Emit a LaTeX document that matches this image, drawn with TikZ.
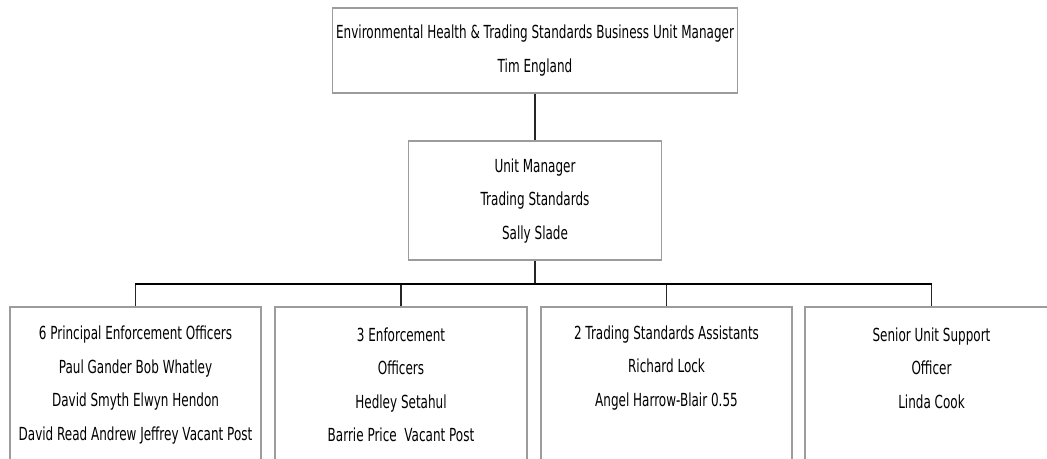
\documentclass[tikz,border=0pt]{standalone}
\usepackage{fontspec}
\newfontfamily\csfont{DejaVu Sans}[FakeStretch=0.667]
\begin{document}
\begin{tikzpicture}[x=1pt,y=-1pt,
  box/.style={draw=boxgray,line width=1.6pt,rectangle,inner sep=0pt},
  txt/.style={align=center,inner sep=0pt,font=\csfont\fontsize{18}{33.5}\selectfont},
  link/.style={draw=black!85,line width=1.4pt},
  bus/.style={draw=black,line width=2.4pt}]
\definecolor{boxgray}{HTML}{9C9C9C}
\useasboundingbox (0,0) rectangle (1047,458);
\clip (0,0) rectangle (1047,458);
% boxes
\node[box,minimum width=405pt,minimum height=85pt] (top) at (535,50.5) {};
\node[box,minimum width=253pt,minimum height=119pt] (mid) at (535,200.5) {};
\node[box,minimum width=251pt,minimum height=170pt] (b1) at (135.5,392) {};
\node[box,minimum width=252pt,minimum height=170pt] (b2) at (401,392) {};
\node[box,minimum width=251pt,minimum height=170pt] (b3) at (666.5,392) {};
\node[box,minimum width=253pt,minimum height=170pt] (b4) at (931.5,392) {};
% texts
\node[txt] (ttop) at (535,50.5) {Environmental Health \& Trading Standards Business Unit Manager\\Tim England};
\node[txt] (tmid) at (535,201) {Unit Manager\\Trading Standards\\Sally Slade};
\node[txt] (t1) at (135.5,385) {6 Principal Enforcement Officers\\Paul Gander Bob Whatley\\David Smyth Elwyn Hendon\\David Read Andrew Jeffrey Vacant Post};
\node[txt] (t2) at (401,385) {3 Enforcement\\Officers\\Hedley Setahul\\Barrie Price\ \ Vacant Post};
\node[txt] (t3) at (666.5,368) {2 Trading Standards Assistants\\Richard Lock\\Angel Harrow-Blair 0.55};
\node[txt] (t4) at (931.5,368) {Senior Unit Support\\Officer\\Linda Cook};
% connectors
\draw[link] (top.south) -- (mid.north);
\coordinate (j) at (535,284);
\draw[link] (mid.south) -- (j);
\draw[link] (b1.north) -- (b1.north |- j);
\draw[link] (b2.north) -- (b2.north |- j);
\draw[link] (b3.north) -- (b3.north |- j);
\draw[link] (b4.north) -- (b4.north |- j);
\draw[bus] ([xshift=-0.7pt]b1.north |- j) -- ([xshift=0.7pt]b4.north |- j);
\end{tikzpicture}
\end{document}
